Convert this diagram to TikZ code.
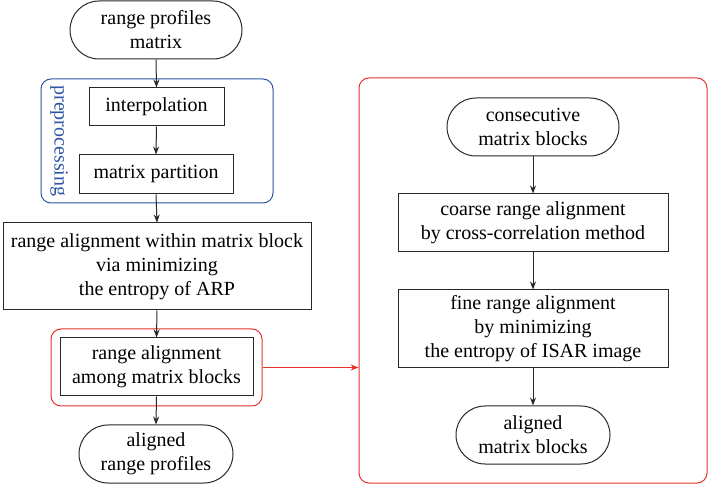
\documentclass[tikz,border=0pt]{standalone}
\usepackage{fontspec}
\setmainfont{Liberation Serif}
\newfontfamily\tnr{Liberation Serif}
\usetikzlibrary{shapes.misc,arrows.meta}
\definecolor{lineg}{RGB}{40,40,40}
\definecolor{preblue}{RGB}{45,85,165}
\definecolor{fred}{RGB}{230,50,40}
\begin{document}
\begin{tikzpicture}[x=1pt,y=-1pt,
  every node/.style={font=\tnr\fontsize{20}{24}\selectfont, align=center, inner sep=0pt},
  term/.style={draw=lineg, line width=1pt, rounded rectangle, rounded rectangle arc length=180},
  procbox/.style={draw=lineg, line width=1pt, rectangle},
  frame/.style={draw, line width=1pt, rounded corners=10pt},
  arr/.style={draw=lineg, line width=1pt, -{Stealth[length=8pt,width=6pt]}},
  rarr/.style={draw=fred, line width=1pt, -{Stealth[length=8pt,width=6pt]}}
]
\useasboundingbox (0,0) rectangle (710,494);
% left column
\node[term, minimum width=172pt, minimum height=58pt] (start) at (156,30) {range profiles\\matrix};
\node[frame, draw=preblue, minimum width=232pt, minimum height=124pt] (pre) at (157,141) {};
\node[text=preblue, rotate=-90] (prelabel) at (59,141) {preprocessing};
\node[procbox, minimum width=135pt, minimum height=38pt] (interp) at (156.5,107) {interpolation};
\node[procbox, minimum width=154pt, minimum height=39pt] (part) at (156,174.5) {matrix partition};
\node[procbox, minimum width=308pt, minimum height=87pt] (within) at (157,266.5) {range alignment within matrix block\\via minimizing\\the entropy of ARP};
\node[frame, draw=fred, minimum width=211pt, minimum height=77pt] (redsmall) at (156.5,367.5) {};
\node[procbox, minimum width=193pt, minimum height=58pt] (among) at (156.5,367) {range alignment\\among matrix blocks};
\node[term, minimum width=154pt, minimum height=58pt] (alignedrp) at (156,454) {aligned\\range profiles};
% right column
\node[frame, draw=fred, minimum width=348pt, minimum height=405pt] (bigred) at (533,280.5) {};
\node[term, minimum width=172pt, minimum height=58pt] (consec) at (533,127) {consecutive\\matrix blocks};
\node[procbox, minimum width=270pt, minimum height=58pt] (coarse) at (533,223) {coarse range alignment\\by cross-correlation method};
\node[procbox, minimum width=270pt, minimum height=78pt] (fine) at (533,329) {fine range alignment\\by minimizing\\the entropy of ISAR image};
\node[term, minimum width=154pt, minimum height=58pt] (alignedmb) at (533,435) {aligned\\matrix blocks};
% connectors
\draw[arr] (start.south) -- (interp.north);
\draw[arr] (interp.south) -- (part.north);
\draw[arr] (part.south) -- (within.north);
\draw[arr] (within.south) -- (among.north);
\draw[arr] (among.south) -- (alignedrp.north);
\draw[rarr] (redsmall.east) -- (redsmall.east -| bigred.west);
\draw[arr] (consec.south) -- (coarse.north);
\draw[arr] (coarse.south) -- (fine.north);
\draw[arr] (fine.south) -- (alignedmb.north);
\end{tikzpicture}
\end{document}
